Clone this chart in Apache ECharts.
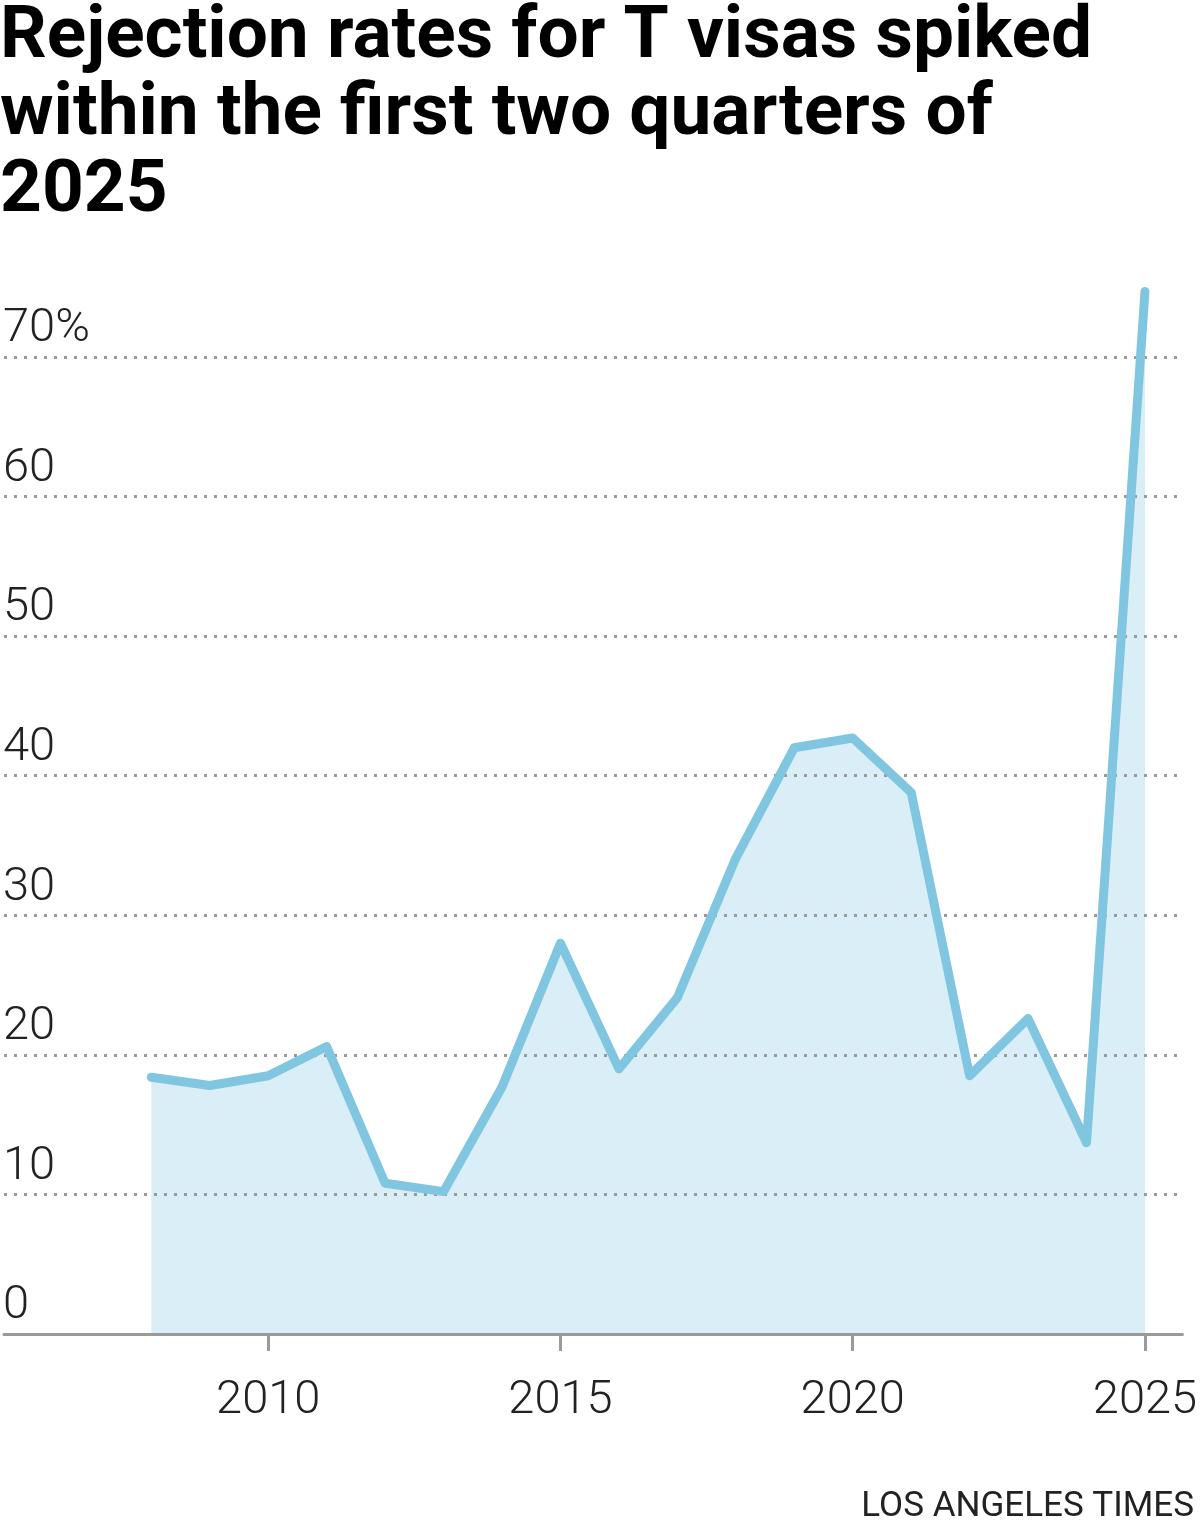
<!DOCTYPE html>
<html>
<head>
<meta charset="utf-8">
<style>
  html, body { margin: 0; padding: 0; background: #fff; }
  #chart { width: 1200px; height: 1530px; }
</style>
</head>
<body>
<div id="chart"></div>
<script src="https://cdn.jsdelivr.net/npm/echarts@6/dist/echarts.min.js"></script>
<script type="text/javascript">
  // T visa rejection rate by fiscal year (%)
  var years = [2008, 2009, 2010, 2011, 2012, 2013, 2014, 2015, 2016,
               2017, 2018, 2019, 2020, 2021, 2022, 2023, 2024, 2025];
  var rates = [18.4, 17.8, 18.5, 20.6, 10.8, 10.2, 17.7, 28.0, 19.0,
               24.1, 34.1, 42.0, 42.7, 38.8, 18.5, 22.6, 13.7, 74.7];
  var xTicks = [2010, 2015, 2020, 2025];

  var points = years.map(function (y, i) { return [y, rates[i]]; });

  var lineColor = '#80c6e1';
  var fillColor = '#daeef7';
  var gray = '#9a9a9a';
  var font = 'Roboto';

  var options = {
    animation: false,
    backgroundColor: '#fff',
    title: [{
      text: 'Rejection rates for T visas spiked\nwithin the first two quarters of\n2025',
      left: 0,
      top: 0,
      padding: 0,
      textStyle: {
        fontFamily: font,
        fontWeight: 700,
        fontSize: 73,
        lineHeight: 77,
        color: '#000'
      }
    }, {
      text: 'LOS ANGELES TIMES',
      right: 6,
      top: 1490,
      padding: 0,
      textStyle: {
        fontFamily: font,
        fontWeight: 400,
        fontSize: 35,
        color: '#222'
      }
    }],
    // 70% sits at the grid top; the 2025 spike runs above it (clip off)
    grid: { left: 0, right: 16, top: 357, bottom: 196 },
    xAxis: {
      type: 'value',
      min: 2005.48,
      max: 2025.64,
      z: 4,
      axisLine: { show: true, lineStyle: { color: gray, width: 3 } },
      axisTick: {
        show: true,
        customValues: xTicks,
        length: 17,
        lineStyle: { color: gray, width: 3 }
      },
      axisLabel: {
        customValues: xTicks,
        margin: 44,
        fontFamily: font,
        fontWeight: 300,
        fontSize: 47,
        color: '#222',
        formatter: function (v) { return String(v); }
      },
      splitLine: { show: false }
    },
    yAxis: {
      type: 'value',
      min: 0,
      max: 70,
      interval: 10,
      z: 2,
      axisLine: { show: false },
      axisTick: { show: false },
      axisLabel: {
        inside: true,
        margin: -1,
        verticalAlign: 'bottom',
        padding: [0, 0, 4, 0],
        fontFamily: font,
        fontWeight: 300,
        fontSize: 47,
        color: '#222',
        formatter: function (v) { return v === 70 ? '70%' : String(v); }
      },
      splitLine: {
        show: true,
        lineStyle: { color: gray, width: 3, type: [3, 7] }
      }
    },
    series: [{
      // fill sits under the dotted grid
      name: 'area',
      type: 'line',
      z: 1,
      clip: false,
      data: points,
      showSymbol: false,
      silent: true,
      lineStyle: { width: 0 },
      areaStyle: { color: fillColor, opacity: 1 }
    }, {
      name: 'Rejection rate',
      type: 'line',
      z: 3,
      clip: false,
      data: points,
      showSymbol: false,
      lineStyle: { color: lineColor, width: 9, cap: 'round', join: 'round' }
    }]
  };

  var myChart = echarts.init(document.getElementById('chart'));
  myChart.setOption(options);
</script>
</body>
</html>
